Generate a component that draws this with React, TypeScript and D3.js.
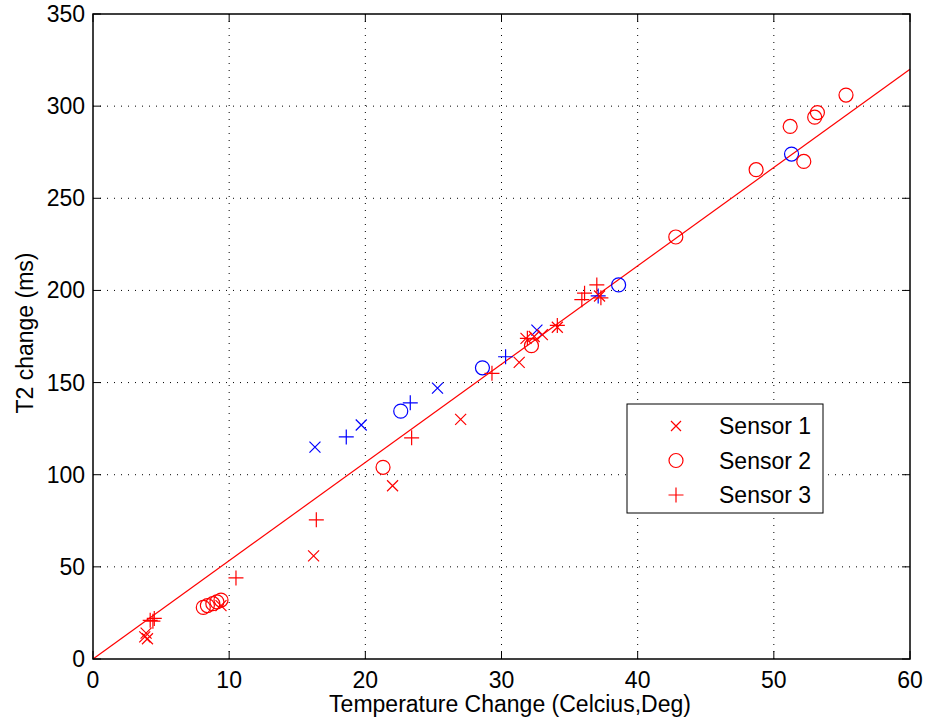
import React, { useEffect, useRef } from 'react';
import * as d3 from 'd3';

// sensor 1 (x), sensor 2 (o), sensor 3 (+) in red; the blue set is a second group
const s1Red = [[3.8, 12], [3.9, 14], [4.0, 11], [9.4, 29], [16.2, 56], [22.0, 94], [27.0, 130], [31.3, 161], [31.8, 174], [32.4, 175], [33.0, 176], [34.1, 180], [37.2, 197]];
const s2Red = [[8.1, 28], [8.4, 29], [8.8, 30], [9.1, 31], [9.4, 32], [21.3, 104], [32.2, 170], [42.8, 229], [48.7, 265.5], [51.2, 289], [52.2, 270], [53.0, 294], [53.2, 296.5], [55.3, 306]];
const s3Red = [[4.2, 21], [4.5, 22], [4.4, 20.5], [10.5, 44], [16.4, 75.5], [23.4, 120], [29.3, 155], [31.9, 174], [34.1, 181], [35.9, 195], [36.1, 198.5], [37.0, 203], [37.3, 196]];
const s1Blue = [[16.3, 115], [19.7, 127], [25.3, 147], [32.6, 178.5]];
const s2Blue = [[22.6, 134.5], [28.6, 158], [38.6, 203], [51.3, 274]];
const s3Blue = [[18.6, 120.5], [23.3, 139], [30.3, 164], [37.1, 197]];
const fitLine = [[0, 0], [60, 320]];
const xTicks = [0, 10, 20, 30, 40, 50, 60];
const yTicks = [0, 50, 100, 150, 200, 250, 300, 350];
const legendLabels = ['Sensor 1', 'Sensor 2', 'Sensor 3'];

const font = 'Helvetica, Arial, "Liberation Sans", sans-serif';

export default function App() {
  const ref = useRef<SVGSVGElement | null>(null);

  useEffect(() => {
    const svg = d3.select(ref.current);
    svg.selectAll('*').remove();

    const left = 93, right = 910, top = 14, bottom = 659;
    const x = d3.scaleLinear().domain([0, 60]).range([left, right]);
    const y = d3.scaleLinear().domain([0, 350]).range([bottom, top]);

    svg.append('rect').attr('width', 927).attr('height', 723).attr('fill', '#fff');

    // dotted grid
    const grid = svg.append('g').attr('stroke', '#000').attr('stroke-width', 1).attr('stroke-dasharray', '1,6');
    xTicks.slice(1, -1).forEach(t => {
      grid.append('line').attr('x1', x(t)).attr('x2', x(t)).attr('y1', top).attr('y2', bottom);
    });
    yTicks.slice(1, -1).forEach(t => {
      grid.append('line').attr('x1', left).attr('x2', right).attr('y1', y(t)).attr('y2', y(t));
    });

    // fit line
    svg.append('path')
      .datum(fitLine)
      .attr('d', d3.line<number[]>().x(d => x(d[0])).y(d => y(d[1])))
      .attr('fill', 'none').attr('stroke', '#f00').attr('stroke-width', 1.2);

    const drawMarks = (data: number[][], kind: string, color: string) => {
      const g = svg.append('g').attr('stroke', color).attr('fill', 'none').attr('stroke-width', 1.2);
      data.forEach(([a, b]) => {
        const px = x(a), py = y(b);
        if (kind === 'x') {
          const s = 5.5;
          g.append('path').attr('d', `M${px - s},${py - s}L${px + s},${py + s}M${px - s},${py + s}L${px + s},${py - s}`);
        } else if (kind === 'o') {
          g.append('circle').attr('cx', px).attr('cy', py).attr('r', 7);
        } else {
          const s = 7.5;
          g.append('path').attr('d', `M${px - s},${py}L${px + s},${py}M${px},${py - s}L${px},${py + s}`);
        }
      });
    };

    drawMarks(s1Blue, 'x', '#00f');
    drawMarks(s2Blue, 'o', '#00f');
    drawMarks(s3Blue, '+', '#00f');
    drawMarks(s1Red, 'x', '#f00');
    drawMarks(s2Red, 'o', '#f00');
    drawMarks(s3Red, '+', '#f00');

    // axes box with inward ticks
    const ax = svg.append('g').attr('stroke', '#000').attr('stroke-width', 1);
    ax.append('rect').attr('x', left).attr('y', top).attr('width', right - left).attr('height', bottom - top)
      .attr('fill', 'none').attr('stroke-width', 1.5);
    xTicks.forEach(t => {
      ax.append('line').attr('x1', x(t)).attr('x2', x(t)).attr('y1', bottom).attr('y2', bottom - 8);
      ax.append('line').attr('x1', x(t)).attr('x2', x(t)).attr('y1', top).attr('y2', top + 8);
    });
    yTicks.forEach(t => {
      ax.append('line').attr('x1', left).attr('x2', left + 8).attr('y1', y(t)).attr('y2', y(t));
      ax.append('line').attr('x1', right).attr('x2', right - 8).attr('y1', y(t)).attr('y2', y(t));
    });

    const txt = svg.append('g').attr('font-family', font).attr('font-size', 23).attr('fill', '#000');
    xTicks.forEach(t => {
      txt.append('text').attr('x', x(t)).attr('y', bottom + 29).attr('text-anchor', 'middle').text(t);
    });
    yTicks.forEach(t => {
      txt.append('text').attr('x', left - 8).attr('y', y(t) + 8).attr('text-anchor', 'end').text(t);
    });
    txt.append('text').attr('x', 510).attr('y', 712).attr('text-anchor', 'middle')
      .text('Temperature Change (Celcius,Deg)');
    txt.append('text').attr('transform', `translate(33,333) rotate(-90)`)
      .attr('text-anchor', 'middle').text('T2 change (ms)');

    // legend
    const lg = svg.append('g');
    lg.append('rect').attr('x', 627).attr('y', 404).attr('width', 196).attr('height', 109)
      .attr('fill', '#fff').attr('stroke', '#000').attr('stroke-width', 1);
    const kinds = ['x', 'o', '+'];
    legendLabels.forEach((lab, i) => {
      const cy = 426 + i * 34.5;
      const g = lg.append('g').attr('stroke', '#f00').attr('fill', 'none').attr('stroke-width', 1.2);
      const cx = 676;
      if (kinds[i] === 'x') {
        const s = 5;
        g.append('path').attr('d', `M${cx - s},${cy - s}L${cx + s},${cy + s}M${cx - s},${cy + s}L${cx + s},${cy - s}`);
      } else if (kinds[i] === 'o') {
        g.append('circle').attr('cx', cx).attr('cy', cy).attr('r', 7);
      } else {
        const s = 7.5;
        g.append('path').attr('d', `M${cx - s},${cy}L${cx + s},${cy}M${cx},${cy - s}L${cx},${cy + s}`);
      }
      lg.append('text').attr('x', 719).attr('y', cy + 8).attr('font-family', font).attr('font-size', 23).text(lab);
    });
  }, []);

  return (
    <div style={{ position: 'absolute', left: 0, top: 0 }}>
      <svg ref={ref} width={927} height={723} style={{ display: 'block' }} />
    </div>
  );
}
